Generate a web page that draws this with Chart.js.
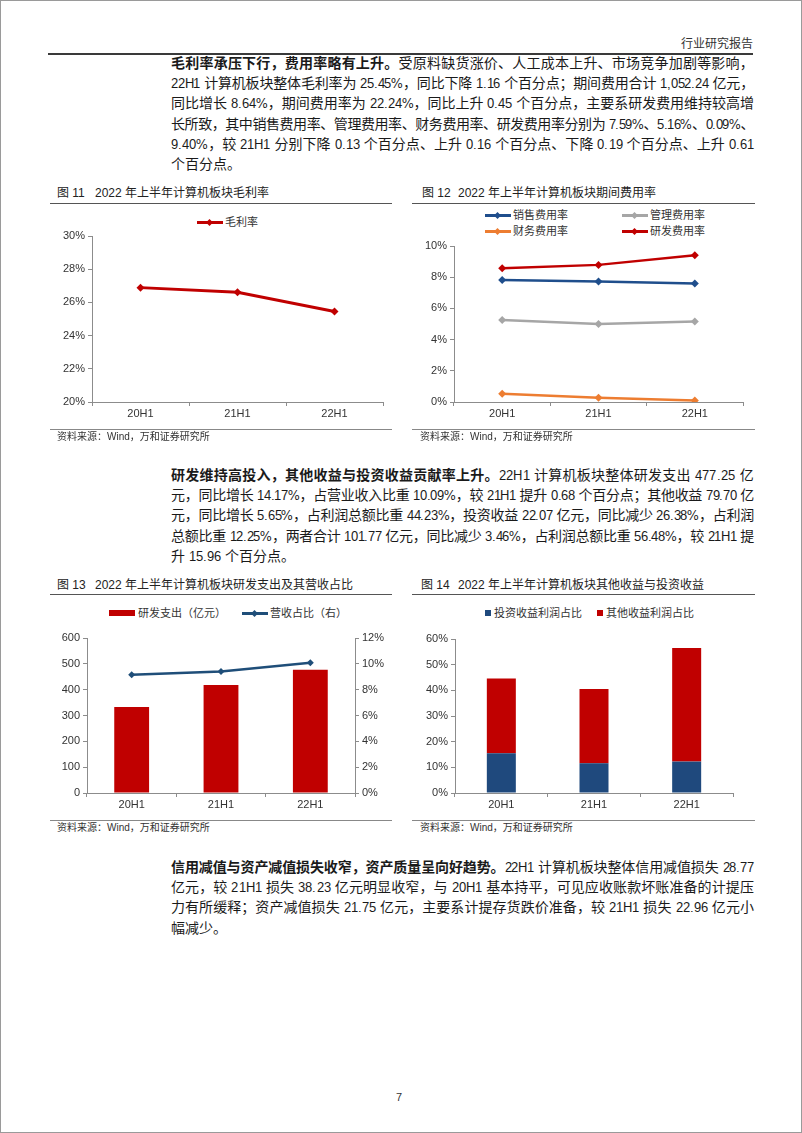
<!DOCTYPE html>
<html lang="zh-CN">
<head>
<meta charset="utf-8">
<title>2022 年上半年计算机板块</title>
<script src="https://cdn.jsdelivr.net/npm/chart.js@4.4.1/dist/chart.umd.min.js"></script>
<style>
  /* latin digits in the body text run a little narrower than the CJK glyphs */
  @font-face { font-family: "BodyLatin"; src: local("Liberation Sans"), local("LiberationSans");
               size-adjust: 92%; unicode-range: U+0020-007E; }
  html, body { margin: 0; padding: 0; background: #fff; }
  body { width: 802px; height: 1133px; position: relative; overflow: hidden;
         font-family: "Liberation Sans", "Noto Sans CJK SC", sans-serif; color: #1a1a1a; }
  .frame { position: absolute; left: 0; top: 0; width: 800px; height: 1131px; border: 1px solid #9a9a9a; }
  .abs { position: absolute; }
  .head { right: 49px; top: 36px; font-size: 12px; line-height: 16px; color: #333; }
  .rule { position: absolute; height: 1px; background: #666; }
  .para { position: absolute; left: 171px; width: 583px; font-size: 14px; line-height: 20.2px;
          font-family: "BodyLatin", "Liberation Sans", "Noto Sans CJK SC", sans-serif; }
  .para div { white-space: nowrap; text-align: left; }
  .para b { font-weight: 700; }
  .ftitle { font-size: 12px; line-height: 16px; color: #222; white-space: nowrap; }
  .ftitle .num { display: inline-block; width: 38px; }
  .src { font-size: 10px; line-height: 14px; color: #333; white-space: nowrap; }
  .legend { position: absolute; display: flex; flex-wrap: wrap; font-size: 11px; line-height: 16px; color: #333; }
  .legend .item { display: flex; align-items: center; white-space: nowrap; }
  .legend .lic { position: relative; display: inline-block; width: 26px; height: 3px; margin-right: 2px; }
  .legend .lic i { position: absolute; left: 10px; top: -1px; width: 5px; height: 5px; transform: rotate(45deg); }
  .legend .bic { display: inline-block; margin-right: 3px; }
  canvas { position: absolute; }
</style>
</head>
<body>
<div class="frame"></div>

<div class="abs head">行业研究报告</div>
<div class="rule" style="left:48px; top:53px; width:705px; height:2px; background:#3a3a3a;"></div>

<div class="para" style="top:54px;">
  <div><b>毛利率承压下行，费用率略有上升。</b>受原料缺货涨价、人工成本上升、市场竞争加剧等影响，</div>
  <div>22H1 计算机板块整体毛利率为 25.45%，同比下降 1.16 个百分点；期间费用合计 1,052.24 亿元，</div>
  <div>同比增长 8.64%，期间费用率为 22.24%，同比上升 0.45 个百分点，主要系研发费用维持较高增</div>
  <div>长所致，其中销售费用率、管理费用率、财务费用率、研发费用率分别为 7.59%、5.16%、0.09%、</div>
  <div>9.40%，较 21H1 分别下降 0.13 个百分点、上升 0.16 个百分点、下降 0.19 个百分点、上升 0.61</div>
  <div class="last">个百分点。</div>
</div>

<div class="abs ftitle" style="left:57px; top:185px;"><span class="num">图 11</span>2022 年上半年计算机板块毛利率</div>
<div class="abs ftitle" style="left:422px; top:185px;"><span class="num" style="width:36px;">图 12</span>2022 年上半年计算机板块期间费用率</div>
<div class="rule" style="left:50px; top:203px; width:342px; background:#555;"></div>
<div class="rule" style="left:412px; top:203px; width:343px; background:#555;"></div>

<div class="legend" id="lg11" style="left:197px; top:214px;"></div>
<div class="legend" id="lg12" style="left:485px; top:207px; width:274px;"></div>
<canvas id="c11" width="342" height="205" style="left:50px; top:225px;"></canvas>
<canvas id="c12" width="343" height="194" style="left:412px; top:236px;"></canvas>

<div class="rule" style="left:50px; top:429px; width:342px; background:#888;"></div>
<div class="rule" style="left:412px; top:429px; width:343px; background:#888;"></div>
<div class="abs src" style="left:57px; top:430px;">资料来源：Wind，万和证券研究所</div>
<div class="abs src" style="left:420px; top:430px;">资料来源：Wind，万和证券研究所</div>

<div class="para" style="top:466px;">
  <div><b>研发维持高投入，其他收益与投资收益贡献率上升。</b>22H1 计算机板块整体研发支出 477.25 亿</div>
  <div>元，同比增长 14.17%，占营业收入比重 10.09%，较 21H1 提升 0.68 个百分点；其他收益 79.70 亿</div>
  <div>元，同比增长 5.65%，占利润总额比重 44.23%，投资收益 22.07 亿元，同比减少 26.38%，占利润</div>
  <div>总额比重 12.25%，两者合计 101.77 亿元，同比减少 3.46%，占利润总额比重 56.48%，较 21H1 提</div>
  <div class="last">升 15.96 个百分点。</div>
</div>

<div class="abs ftitle" style="left:57px; top:577px;"><span class="num">图 13</span>2022 年上半年计算机板块研发支出及其营收占比</div>
<div class="abs ftitle" style="left:421px; top:577px;"><span class="num" style="width:37px;">图 14</span>2022 年上半年计算机板块其他收益与投资收益</div>
<div class="rule" style="left:50px; top:594px; width:342px; background:#555;"></div>
<div class="rule" style="left:412px; top:594px; width:343px; background:#555;"></div>

<div class="legend" id="lg13" style="left:109px; top:605px;"></div>
<div class="legend" id="lg14" style="left:485px; top:605px;"></div>
<canvas id="c13" width="342" height="195" style="left:50px; top:625px;"></canvas>
<canvas id="c14" width="343" height="195" style="left:412px; top:625px;"></canvas>

<div class="rule" style="left:50px; top:820px; width:342px; background:#888;"></div>
<div class="rule" style="left:412px; top:820px; width:343px; background:#888;"></div>
<div class="abs src" style="left:57px; top:821px;">资料来源：Wind，万和证券研究所</div>
<div class="abs src" style="left:420px; top:821px;">资料来源：Wind，万和证券研究所</div>

<div class="para" style="top:858px;">
  <div><b>信用减值与资产减值损失收窄，资产质量呈向好趋势。</b>22H1 计算机板块整体信用减值损失 28.77</div>
  <div>亿元，较 21H1 损失 38.23 亿元明显收窄，与 20H1 基本持平，可见应收账款坏账准备的计提压</div>
  <div>力有所缓释；资产减值损失 21.75 亿元，主要系计提存货跌价准备，较 21H1 损失 22.96 亿元小</div>
  <div class="last">幅减少。</div>
</div>

<div class="abs" style="left:396px; top:1090px; font-size:11px; line-height:14px; color:#333;">7</div>

<script>
// values (percent values kept as numbers)
const periods = ['20H1', '21H1', '22H1'];

const grossMargin = [26.89, 26.61, 25.45];

const salesRate = [7.82, 7.72, 7.59];
const adminRate = [5.26, 5.00, 5.16];
const financeRate = [0.53, 0.28, 0.09];
const rdRate = [8.57, 8.79, 9.40];

const rdSpend = [333, 418, 477.25];
const rdShare = [9.16, 9.41, 10.09];

const investShare = [15.5, 11.6, 12.25];
const otherShare = [29.1, 28.92, 44.23];

const red = '#C00000';
const navy = '#1F4E8C';
const grey = '#A6A6A6';
const orange = '#ED7D31';
const axisGrey = '#8c8c8c';

// stretch / squeeze each full line of body text to the column width
const COL_W = 583;
document.querySelectorAll('.para div').forEach(line => {
    const span = document.createElement('span');
    while (line.firstChild) span.appendChild(line.firstChild);
    line.appendChild(span);
});
function fitLines() {
    document.querySelectorAll('.para div:not(.last) > span').forEach(span => {
        span.style.letterSpacing = '0px';
        const w = span.getBoundingClientRect().width;
        const n = span.textContent.replace(/\s+/g, ' ').trim().length;
        span.style.letterSpacing = ((COL_W - w) / n).toFixed(3) + 'px';
    });
}
fitLines();
if (document.fonts) document.fonts.ready.then(fitLines);
window.addEventListener('load', fitLines);

Chart.defaults.font.family = '"Liberation Sans", "Noto Sans CJK SC", sans-serif';
Chart.defaults.font.size = 11;
Chart.defaults.color = '#333';

// legend drawn as html next to the canvas, built from the datasets
const htmlLegend = {
    id: 'htmlLegend',
    afterUpdate(chart, args, opts) {
        const box = document.getElementById(opts.containerID);
        box.innerHTML = '';
        chart.data.datasets.forEach(ds => {
            const item = document.createElement('div');
            item.className = 'item';
            item.style.width = opts.itemWidth + 'px';
            const type = ds.type || chart.config.type;
            let icon;
            if (type === 'line') {
                icon = document.createElement('span');
                icon.className = 'lic';
                icon.style.background = ds.borderColor;
                const d = document.createElement('i');
                d.style.background = ds.borderColor;
                icon.appendChild(d);
            } else {
                icon = document.createElement('span');
                icon.className = 'bic';
                icon.style.width = opts.boxW + 'px';
                icon.style.height = opts.boxH + 'px';
                icon.style.background = ds.backgroundColor;
            }
            item.appendChild(icon);
            const t = document.createElement('span');
            t.textContent = ds.label;
            item.appendChild(t);
            box.appendChild(item);
        });
    }
};

function catAxis(h) {
    return {
        offset: true,
        grid: { offset: true, drawOnChartArea: false, drawTicks: true, tickLength: 4, color: axisGrey },
        border: { color: axisGrey },
        ticks: { padding: 1, maxRotation: 0 },
        afterFit: s => { s.height = h; }
    };
}

function valAxis(w, min, max, step, suffix, position) {
    return {
        position: position || 'left',
        min, max,
        grid: { drawOnChartArea: false, drawTicks: true, tickLength: 4, color: axisGrey },
        border: { color: axisGrey },
        ticks: { stepSize: step, padding: 3, callback: v => v + suffix },
        afterFit: s => { s.width = w; }
    };
}

function lineSet(label, data, color, width, radius) {
    return {
        type: 'line',
        label, data,
        borderColor: color,
        backgroundColor: color,
        borderWidth: width,
        pointStyle: 'rectRot',
        pointRadius: radius,
        pointBorderWidth: 0,
        pointBackgroundColor: color,
        tension: 0
    };
}

const base = {
    responsive: false,
    animation: false,
    events: []
};

new Chart(document.getElementById('c11'), {
    type: 'line',
    data: { labels: periods, datasets: [lineSet('毛利率', grossMargin, red, 3, 4)] },
    options: {
        ...base,
        layout: { padding: { top: 11, right: 9, left: 0, bottom: 0 } },
        plugins: { legend: { display: false }, tooltip: { enabled: false },
                   htmlLegend: { containerID: 'lg11', itemWidth: 90 } },
        scales: { x: catAxis(28), y: valAxis(42, 20, 30, 2, '%') }
    },
    plugins: [htmlLegend]
});

new Chart(document.getElementById('c12'), {
    type: 'line',
    data: {
        labels: periods,
        datasets: [
            lineSet('销售费用率', salesRate, navy, 2.5, 4),
            lineSet('管理费用率', adminRate, grey, 2.5, 4),
            lineSet('财务费用率', financeRate, orange, 2.5, 4),
            lineSet('研发费用率', rdRate, red, 2.5, 4)
        ]
    },
    options: {
        ...base,
        layout: { padding: { top: 10, right: 12, left: 0, bottom: 0 } },
        plugins: { legend: { display: false }, tooltip: { enabled: false },
                   htmlLegend: { containerID: 'lg12', itemWidth: 137 } },
        scales: { x: catAxis(28), y: valAxis(42, 0, 10, 2, '%') }
    },
    plugins: [htmlLegend]
});

new Chart(document.getElementById('c13'), {
    type: 'bar',
    data: {
        labels: periods,
        datasets: [
            {
                label: '研发支出（亿元）',
                data: rdSpend,
                backgroundColor: red,
                categoryPercentage: 1,
                barPercentage: 0.39,
                yAxisID: 'y'
            },
            { ...lineSet('营收占比（右）', rdShare, '#1F4E79', 2.5, 3.5), yAxisID: 'y1' }
        ]
    },
    options: {
        ...base,
        layout: { padding: { top: 13, right: 0, left: 0, bottom: 0 } },
        plugins: { legend: { display: false }, tooltip: { enabled: false },
                   htmlLegend: { containerID: 'lg13', itemWidth: 133, boxW: 26, boxH: 6 } },
        scales: {
            x: catAxis(27),
            y: valAxis(37, 0, 600, 100, ''),
            y1: valAxis(37, 0, 12, 2, '%', 'right')
        }
    },
    plugins: [htmlLegend]
});

new Chart(document.getElementById('c14'), {
    type: 'bar',
    data: {
        labels: periods,
        datasets: [
            { label: '投资收益利润占比', data: investShare, backgroundColor: '#1F497D',
              categoryPercentage: 1, barPercentage: 0.313 },
            { label: '其他收益利润占比', data: otherShare, backgroundColor: red,
              categoryPercentage: 1, barPercentage: 0.313 }
        ]
    },
    options: {
        ...base,
        layout: { padding: { top: 14, right: 22, left: 0, bottom: 0 } },
        plugins: { legend: { display: false }, tooltip: { enabled: false },
                   htmlLegend: { containerID: 'lg14', itemWidth: 112, boxW: 6, boxH: 6 } },
        scales: {
            x: { ...catAxis(27), stacked: true },
            y: { ...valAxis(43, 0, 60, 10, '%'), stacked: true }
        }
    },
    plugins: [htmlLegend]
});
</script>
</body>
</html>
